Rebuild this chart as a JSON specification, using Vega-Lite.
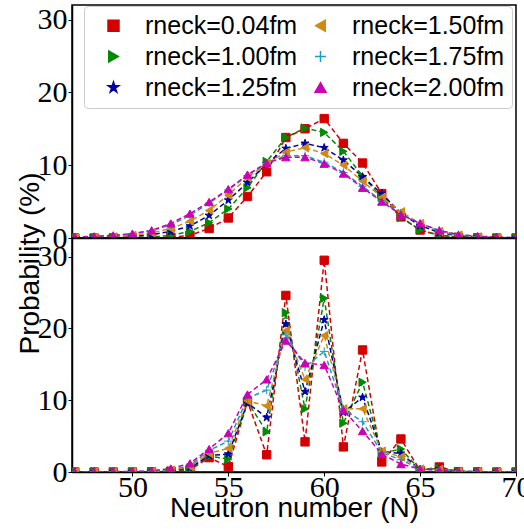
{
  "$schema": "https://vega.github.io/schema/vega-lite/v6.json",
  "padding": {"left": 15, "top": 3, "right": 0, "bottom": 0},
  "spacing": 0,
  "bounds": "flush",
  "datasets": {
    "top": [
      {"N": 47, "r004": 0, "r100": 0, "r125": 0.01, "r150": 0.03, "r175": 0.05, "r200": 0.14},
      {"N": 48, "r004": 0, "r100": 0, "r125": 0.03, "r150": 0.07, "r175": 0.12, "r200": 0.23},
      {"N": 49, "r004": 0, "r100": 0.02, "r125": 0.08, "r150": 0.15, "r175": 0.25, "r200": 0.37},
      {"N": 50, "r004": 0.01, "r100": 0.05, "r125": 0.2, "r150": 0.35, "r175": 0.55, "r200": 0.6},
      {"N": 51, "r004": 0.03, "r100": 0.15, "r125": 0.45, "r150": 0.7, "r175": 1.0, "r200": 1.05},
      {"N": 52, "r004": 0.1, "r100": 0.35, "r125": 0.9, "r150": 1.3, "r175": 1.8, "r200": 2.0},
      {"N": 53, "r004": 0.37, "r100": 0.9, "r125": 1.65, "r150": 2.3, "r175": 3.1, "r200": 3.35},
      {"N": 54, "r004": 1.3, "r100": 2.1, "r125": 3.1, "r150": 3.8, "r175": 4.8, "r200": 4.95},
      {"N": 55, "r004": 2.75, "r100": 4.0, "r125": 5.2, "r150": 5.9, "r175": 6.6, "r200": 6.7},
      {"N": 56, "r004": 5.7, "r100": 6.9, "r125": 7.6, "r150": 8.3, "r175": 8.6, "r200": 8.7},
      {"N": 57, "r004": 9.1, "r100": 10.5, "r125": 10.2, "r150": 10.2, "r175": 10.3, "r200": 10.3},
      {"N": 58, "r004": 13.8, "r100": 13.8, "r125": 12.3, "r150": 11.8, "r175": 11.3, "r200": 11.1},
      {"N": 59, "r004": 15.0, "r100": 15.1, "r125": 13.0, "r150": 12.4, "r175": 11.3, "r200": 11.1},
      {"N": 60, "r004": 16.4, "r100": 14.5, "r125": 12.4, "r150": 11.6, "r175": 10.4, "r200": 10.2},
      {"N": 61, "r004": 13.0, "r100": 11.9, "r125": 10.7, "r150": 10.0, "r175": 9.0, "r200": 8.85},
      {"N": 62, "r004": 10.3, "r100": 8.5, "r125": 8.4, "r150": 7.8, "r175": 7.1, "r200": 6.9},
      {"N": 63, "r004": 6.1, "r100": 5.6, "r125": 6.1, "r150": 5.6, "r175": 5.1, "r200": 5.0},
      {"N": 64, "r004": 2.9, "r100": 2.8, "r125": 3.4, "r150": 3.6, "r175": 3.3, "r200": 3.2},
      {"N": 65, "r004": 1.1, "r100": 1.1, "r125": 1.7, "r150": 2.0, "r175": 2.0, "r200": 2.0},
      {"N": 66, "r004": 0.35, "r100": 0.4, "r125": 0.75, "r150": 0.9, "r175": 1.0, "r200": 1.05},
      {"N": 67, "r004": 0.1, "r100": 0.12, "r125": 0.3, "r150": 0.4, "r175": 0.45, "r200": 0.45},
      {"N": 68, "r004": 0.02, "r100": 0.03, "r125": 0.1, "r150": 0.15, "r175": 0.2, "r200": 0.25},
      {"N": 69, "r004": 0, "r100": 0.01, "r125": 0.03, "r150": 0.05, "r175": 0.08, "r200": 0.14},
      {"N": 70, "r004": 0, "r100": 0, "r125": 0.01, "r150": 0.02, "r175": 0.03, "r200": 0.05}
    ],
    "bottom": [
      {"N": 47, "r004": 0, "r100": 0, "r125": 0, "r150": 0, "r175": 0, "r200": 0.02},
      {"N": 48, "r004": 0, "r100": 0, "r125": 0, "r150": 0, "r175": 0, "r200": 0.03},
      {"N": 49, "r004": 0, "r100": 0, "r125": 0, "r150": 0, "r175": 0.02, "r200": 0.05},
      {"N": 50, "r004": 0, "r100": 0, "r125": 0.02, "r150": 0.03, "r175": 0.05, "r200": 0.08},
      {"N": 51, "r004": 0.02, "r100": 0.03, "r125": 0.05, "r150": 0.07, "r175": 0.1, "r200": 0.15},
      {"N": 52, "r004": 0.1, "r100": 0.15, "r125": 0.2, "r150": 0.25, "r175": 0.35, "r200": 0.5},
      {"N": 53, "r004": 0.3, "r100": 0.45, "r125": 0.6, "r150": 0.75, "r175": 0.9, "r200": 1.2},
      {"N": 54, "r004": 2.0, "r100": 2.2, "r125": 2.3, "r150": 2.6, "r175": 3.0, "r200": 3.2},
      {"N": 55, "r004": 0.75, "r100": 1.8, "r125": 2.5, "r150": 3.3, "r175": 4.3, "r200": 5.4},
      {"N": 56, "r004": 9.8, "r100": 9.8, "r125": 9.6, "r150": 9.9, "r175": 10.3, "r200": 10.8},
      {"N": 57, "r004": 2.4, "r100": 5.6, "r125": 7.6, "r150": 9.2, "r175": 11.4, "r200": 12.9},
      {"N": 58, "r004": 24.6, "r100": 22.2, "r125": 20.6, "r150": 19.7, "r175": 19.1, "r200": 18.3},
      {"N": 59, "r004": 4.2, "r100": 8.8, "r125": 11.2, "r150": 12.9, "r175": 14.6, "r200": 15.2},
      {"N": 60, "r004": 29.5, "r100": 24.2, "r125": 21.2, "r150": 19.0, "r175": 16.8, "r200": 14.9},
      {"N": 61, "r004": 3.5, "r100": 6.8, "r125": 8.3, "r150": 8.8, "r175": 8.8, "r200": 8.6},
      {"N": 62, "r004": 17.0, "r100": 12.5, "r125": 10.4, "r150": 8.8, "r175": 7.0, "r200": 5.7},
      {"N": 63, "r004": 1.4, "r100": 2.6, "r125": 2.8, "r150": 2.9, "r175": 2.7, "r200": 2.5},
      {"N": 64, "r004": 4.6, "r100": 3.2, "r125": 2.6, "r150": 2.1, "r175": 1.7, "r200": 1.1},
      {"N": 65, "r004": 0.2, "r100": 0.3, "r125": 0.35, "r150": 0.4, "r175": 0.4, "r200": 0.4},
      {"N": 66, "r004": 0.7, "r100": 0.5, "r125": 0.4, "r150": 0.35, "r175": 0.3, "r200": 0.25},
      {"N": 67, "r004": 0.05, "r100": 0.08, "r125": 0.1, "r150": 0.12, "r175": 0.12, "r200": 0.1},
      {"N": 68, "r004": 0.02, "r100": 0.02, "r125": 0.03, "r150": 0.04, "r175": 0.05, "r200": 0.05},
      {"N": 69, "r004": 0, "r100": 0, "r125": 0, "r150": 0.01, "r175": 0.02, "r200": 0.02},
      {"N": 70, "r004": 0, "r100": 0, "r125": 0, "r150": 0, "r175": 0.01, "r200": 0.01}
    ]
  },
  "resolve": {"legend": {"color": "independent", "shape": "independent"}},
  "vconcat": [
    {
      "width": 444,
      "height": 233,
      "data": {"name": "top"},
      "transform": [{"fold": ["r004", "r100", "r125", "r150", "r175", "r200"], "as": ["key", "p"]}],
      "encoding": {
        "x": {"field": "N", "type": "quantitative", "scale": {"domain": [46.85, 70], "nice": false, "zero": false},
              "axis": {"labels": false, "ticks": false, "title": null, "values": [50, 55, 60, 65, 70]}},
        "y": {"field": "p", "type": "quantitative", "scale": {"domain": [0, 32], "nice": false},
              "axis": {"values": [0, 10, 20, 30], "title": null}}
      },
      "layer": [
        {
          "mark": {"type": "line", "strokeDash": [5, 3], "strokeWidth": 1.5, "clip": true},
          "encoding": {
            "stroke": {"field": "key", "type": "nominal",
                       "scale": {"domain": ["r004", "r100", "r125", "r150", "r175", "r200"], "range": ["#d40000", "#008a00", "#0000a8", "#d08a12", "#1c9cc4", "#cc00b4"]},
                       "legend": null}
          }
        },
        {
          "mark": {"type": "point", "filled": true, "size": 70, "strokeWidth": 1, "opacity": 1, "clip": true},
          "encoding": {
            "color": {"field": "key", "type": "nominal",
                      "scale": {"domain": ["r004", "r100", "r125", "r150", "r175", "r200"], "range": ["#d40000", "#008a00", "#0000a8", "#d08a12", "#1c9cc4", "#cc00b4"]},
                      "legend": {"title": null, "labelExpr": "'rneck=' + substring(datum.value,1,2) + '.' + substring(datum.value,2,4) + 'fm'",
                                 "encode": {"symbols": {"update": {"stroke": {"scale": "stroke", "field": "value"}, "strokeWidth": {"value": 1.5}}}}}},
            "shape": {"field": "key", "type": "nominal",
                      "scale": {"domain": ["r004", "r100", "r125", "r150", "r175", "r200"],
                                "range": ["square", "triangle-right", "M0,-1L0.2245,-0.309L0.951,-0.309L0.363,0.118L0.588,0.809L0,0.382L-0.588,0.809L-0.363,0.118L-0.951,-0.309L-0.2245,-0.309Z", "triangle-left", "M-1,0L1,0M0,-1L0,1", "triangle-up"]},
                      "legend": {"title": null, "labelExpr": "'rneck=' + substring(datum.value,1,2) + '.' + substring(datum.value,2,4) + 'fm'"}},
            "stroke": {"field": "key", "type": "nominal", "legend": null},
            "order": {"field": "key", "type": "nominal"}
          }
        }
      ]
    },
    {
      "width": 444,
      "height": 234,
      "data": {"name": "bottom"},
      "transform": [{"fold": ["r004", "r100", "r125", "r150", "r175", "r200"], "as": ["key", "p"]}],
      "encoding": {
        "x": {"field": "N", "type": "quantitative", "scale": {"domain": [46.85, 70], "nice": false, "zero": false},
              "axis": {"values": [50, 55, 60, 65, 70], "title": "Neutron number (N)", "labelPadding": -4, "titlePadding": -8}},
        "y": {"field": "p", "type": "quantitative", "scale": {"domain": [0, 32.6], "nice": false},
              "axis": {"values": [0, 10, 20, 30], "title": "Probability (%)", "titleX": -42, "titleY": 25, "titleBaseline": "middle", "titleAlign": "center", "titleAngle": -90}}
      },
      "layer": [
        {
          "mark": {"type": "line", "strokeDash": [5, 3], "strokeWidth": 1.5, "clip": true},
          "encoding": {
            "stroke": {"field": "key", "type": "nominal", "legend": null}
          }
        },
        {
          "mark": {"type": "point", "filled": true, "size": 70, "strokeWidth": 1, "opacity": 1, "clip": true},
          "encoding": {
            "color": {"field": "key", "type": "nominal", "legend": null},
            "shape": {"field": "key", "type": "nominal", "legend": null},
            "stroke": {"field": "key", "type": "nominal", "legend": null},
            "order": {"field": "key", "type": "nominal"}
          }
        }
      ]
    }
  ],
  "config": {
    "view": {"stroke": "black", "strokeWidth": 1.5},
    "axis": {
      "grid": false, "domainColor": "black", "domainWidth": 1.5, "tickColor": "black", "tickSize": 4, "tickWidth": 1,
      "labelFont": "Liberation Serif", "labelFontSize": 30, "labelColor": "black", "labelPadding": 1, "labelFlush": false,
      "titleFont": "Liberation Sans", "titleFontSize": 28, "titleFontWeight": "normal", "titleColor": "black", "titlePadding": 0
    },
    "legend": {
      "orient": "none", "legendX": 12, "legendY": 1, "columns": 2, "direction": "vertical",
      "fillColor": "white", "strokeColor": "#cccccc", "cornerRadius": 4, "padding": 7,
      "labelFont": "Liberation Sans", "labelFontSize": 25, "labelColor": "black", "labelLimit": 300,
      "symbolSize": 120, "symbolOffset": 10, "labelOffset": 19, "columnPadding": -6, "rowPadding": 5, "symbolStrokeWidth": 1.5,
      "symbolOpacity": 1
    }
  }
}
